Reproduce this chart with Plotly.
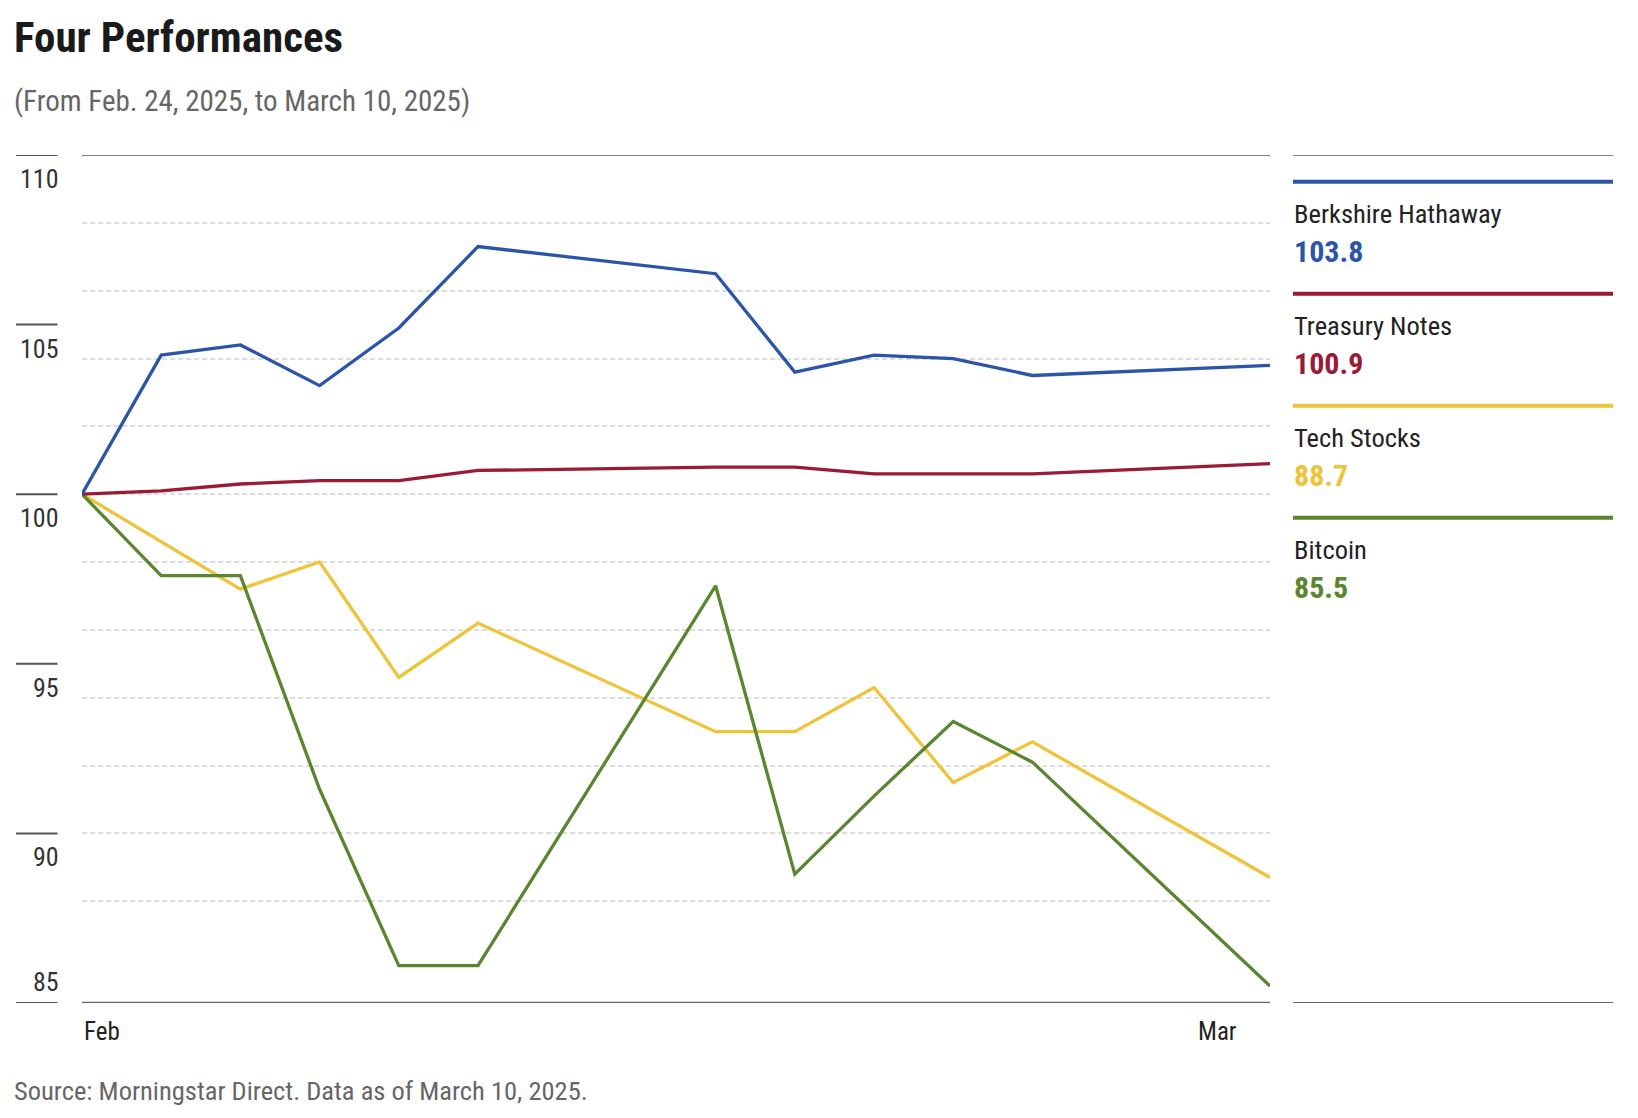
import plotly.graph_objects as go

# ---------------- data ----------------
dates = ["2025-02-23", "2025-02-24", "2025-02-25", "2025-02-26", "2025-02-27", "2025-02-28",
         "2025-03-03", "2025-03-04", "2025-03-05", "2025-03-06", "2025-03-07", "2025-03-10"]

berkshire = [100, 104.1, 104.4, 103.2, 104.9, 107.3, 106.5, 103.6, 104.1, 104.0, 103.5, 103.8]
treasury = [100, 100.1, 100.3, 100.4, 100.4, 100.7, 100.8, 100.8, 100.6, 100.6, 100.6, 100.9]
tech = [100, 98.6, 97.2, 98.0, 94.6, 96.2, 93.0, 93.0, 94.3, 91.5, 92.7, 88.7]
bitcoin = [100, 97.6, 97.6, 91.3, 86.1, 86.1, 97.3, 88.8, 91.1, 93.3, 92.1, 85.5]

series_names = ["Berkshire Hathaway", "Treasury Notes", "Tech Stocks", "Bitcoin"]
series_values = [berkshire, treasury, tech, bitcoin]
series_colors = ["#2c55a8", "#9b1a36", "#eec43a", "#5a8631"]

y_label_values = [110, 105, 100, 95, 90, 85]
grid_values = [88, 90, 92, 94, 96, 98, 100, 102, 104, 106, 108]
x_labels = ["Feb", "Mar"]

title = "Four Performances"
subtitle = "(From Feb. 24, 2025, to March 10, 2025)"
source = "Source: Morningstar Direct. Data as of March 10, 2025."

# ---------------- layout helpers ----------------
W_FIG, H_FIG = 1638, 1118
L, R, T, B = 82, 368, 155, 115
PW = W_FIG - L - R
PH = H_FIG - T - B


def px(x):
    return (x - L) / PW


def py(y):
    return (H_FIG - B - y) / PH


NARROW = "Liberation Sans Narrow, Arial Narrow, Roboto Condensed, DejaVu Sans Condensed, sans-serif"

fig = go.Figure()

# draw order: tech, bitcoin, treasury, berkshire
for idx in [2, 3, 1, 0]:
    fig.add_trace(go.Scatter(
        x=dates, y=series_values[idx], mode="lines", name=series_names[idx],
        line=dict(color=series_colors[idx], width=3.3), showlegend=False,
        hovertemplate="%{x|%b %d}: %{y:.1f}<extra>" + series_names[idx] + "</extra>",
    ))

shapes = []
# top & bottom solid lines of plot
shapes.append(dict(type="line", xref="paper", yref="y", x0=0, x1=1, y0=110, y1=110,
                   line=dict(color="#555555", width=1.5), layer="below"))
shapes.append(dict(type="line", xref="paper", yref="y", x0=0, x1=1, y0=85, y1=85,
                   line=dict(color="#666666", width=2.5), layer="below"))
# left tick segments
for v in y_label_values:
    shapes.append(dict(type="line", xref="paper", yref="y", x0=px(16), x1=px(57.5), y0=v, y1=v,
                       line=dict(color="#555555", width=2)))
# legend frame lines (gray top/bottom)
shapes.append(dict(type="line", xref="paper", yref="y", x0=px(1293), x1=px(1613), y0=110, y1=110,
                   line=dict(color="#555555", width=1.5)))
shapes.append(dict(type="line", xref="paper", yref="y", x0=px(1293), x1=px(1613), y0=85, y1=85,
                   line=dict(color="#666666", width=2)))

annotations = []
# y labels
for v in y_label_values:
    annotations.append(dict(xref="paper", yref="y", x=px(58), y=v, xanchor="right", yanchor="middle",
                            xshift=3, yshift=(21 if v == 85 else -24), showarrow=False, text=str(v),
                            font=dict(family=NARROW, size=26, color="#333333")))

# legend entries
LEG_Y0 = 181.7
LEG_STEP = 112
for i, (name, vals, col) in enumerate(zip(series_names, series_values, series_colors)):
    yl = LEG_Y0 + i * LEG_STEP
    shapes.append(dict(type="line", xref="paper", yref="paper", x0=px(1293), x1=px(1613),
                       y0=py(yl), y1=py(yl), line=dict(color=col, width=4)))
    annotations.append(dict(xref="paper", yref="paper", x=px(1292), y=py(yl + 32), xanchor="left",
                            yanchor="middle", showarrow=False, text=name,
                            font=dict(family=NARROW, size=26.5, color="#222222")))
    annotations.append(dict(xref="paper", yref="paper", x=px(1292), y=py(yl + 70), xanchor="left",
                            yanchor="middle", showarrow=False, text="<b>%.1f</b>" % vals[-1],
                            font=dict(family=NARROW, size=30, color=col)))

# x labels
annotations.append(dict(xref="x", yref="paper", x=dates[0], y=py(1031), xanchor="left", yanchor="middle",
                        showarrow=False, text=x_labels[0], font=dict(family=NARROW, size=25, color="#222222")))
annotations.append(dict(xref="x", yref="paper", x=dates[-1], y=py(1031), xanchor="right", yanchor="middle",
                        xshift=-31, showarrow=False, text=x_labels[1],
                        font=dict(family=NARROW, size=25, color="#222222")))

# title, subtitle, source
annotations.append(dict(xref="paper", yref="paper", x=px(12), y=py(37), xanchor="left", yanchor="middle",
                        showarrow=False, text="<b>" + title + "</b>",
                        font=dict(family=NARROW, size=43, color="#1a1a1a")))
annotations.append(dict(xref="paper", yref="paper", x=px(12), y=py(101), xanchor="left", yanchor="middle",
                        showarrow=False, text=subtitle,
                        font=dict(family=NARROW, size=29, color="#666666")))
annotations.append(dict(xref="paper", yref="paper", x=px(12), y=py(1090), xanchor="left", yanchor="middle",
                        showarrow=False, text=source,
                        font=dict(family=NARROW, size=26.5, color="#666666")))

fig.update_layout(
    width=W_FIG, height=H_FIG,
    margin=dict(l=L, r=R, t=T, b=B, autoexpand=False),
    paper_bgcolor="white", plot_bgcolor="white",
    xaxis=dict(type="date", range=[dates[0], dates[-1]], showgrid=False, showticklabels=False,
               zeroline=False, showline=False, ticks=""),
    yaxis=dict(range=[85, 110], tickvals=grid_values, showticklabels=False, showgrid=True,
               gridcolor="#dddddd", griddash="5px,3px", gridwidth=1.5, zeroline=False,
               showline=False, ticks=""),
    shapes=shapes,
    annotations=annotations,
    hovermode="closest",
)

fig.write_html("out.html")
